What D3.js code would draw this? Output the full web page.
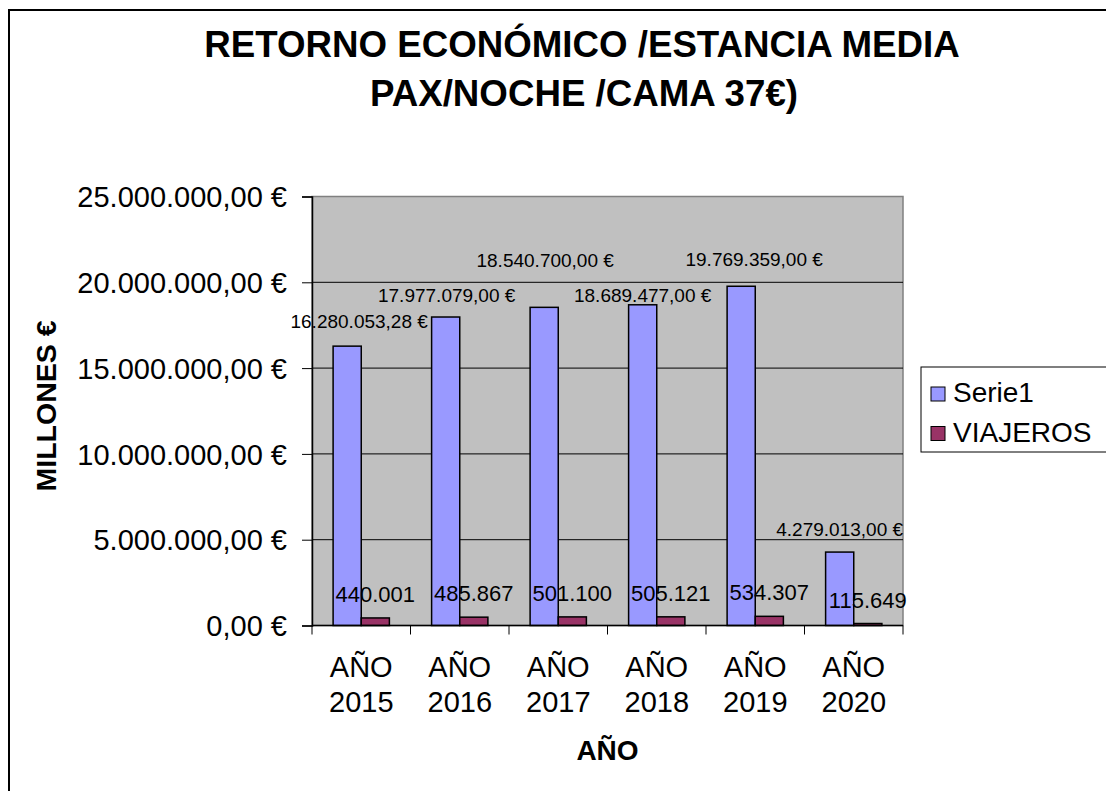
<!DOCTYPE html>
<html>
<head>
<meta charset="utf-8">
<script src="https://cdn.jsdelivr.net/npm/d3@7"></script>
<style>
  body { margin: 0; background: #fff; }
  svg text { font-family: "Liberation Sans", Arial, sans-serif; fill: #000; }
</style>
</head>
<body>
<script>
var years = ["AÑO 2015", "AÑO 2016", "AÑO 2017", "AÑO 2018", "AÑO 2019", "AÑO 2020"];
var serie1 = [16280053.28, 17977079, 18540700, 18689477, 19769359, 4279013];
var viajeros = [440001, 485867, 501100, 505121, 534307, 115649];
var yTicks = [0, 5000000, 10000000, 15000000, 20000000, 25000000];
var seriesNames = ["Serie1", "VIAJEROS"];
var colors = ["#9999FF", "#993366"];

var WIDTH = 1106,
    HEIGHT = 791;

var plot = {left: 312, right: 903, top: 196.5, bottom: 625.5};

// Excel moves some labels to avoid overlaps; nudges (dx, dy) from default spot
var s1Nudge = [[12, -2], [1, 1], [1, -24], [0, 13], [13, -4], [0, 0]];

var svg = d3.select("body").append("svg")
      .attr("width", WIDTH)
      .attr("height", HEIGHT);

// outer chart border (runs off the right and bottom)
svg.append("rect")
  .attr("x", 9).attr("y", 10)
  .attr("width", 1130).attr("height", 800)
  .attr("fill", "#fff")
  .attr("stroke", "#000")
  .attr("stroke-width", 2);

var x = d3.scaleBand().domain(years).range([plot.left, plot.right]).paddingInner(0).paddingOuter(0);
var y = d3.scaleLinear().domain([0, 25000000]).range([plot.bottom, plot.top]);

var fmtEuro = function(v, dec) {
  var s = d3.format(",." + dec + "f")(v);
  return s.replace(/,/g, "#").replace(/\./g, ",").replace(/#/g, ".");
};

// plot background
svg.append("rect")
  .attr("x", plot.left).attr("y", plot.top)
  .attr("width", plot.right - plot.left).attr("height", plot.bottom - plot.top)
  .attr("fill", "#C0C0C0")
  .attr("stroke", "#808080")
  .attr("stroke-width", 1.5);

// gridlines
svg.selectAll(".grid").data(yTicks.slice(1, -1))
  .enter().append("line")
  .attr("class", "grid")
  .attr("x1", plot.left).attr("x2", plot.right)
  .attr("y1", function(d) { return y(d); })
  .attr("y2", function(d) { return y(d); })
  .attr("stroke", "#000")
  .attr("stroke-width", 1);

var bw = x.bandwidth() / 3.5;  // gap width 150%
var off = x.bandwidth() * 0.75 / 3.5;

var groups = [serie1, viajeros];
groups.forEach(function(vals, si) {
  svg.selectAll(".bar" + si).data(vals)
    .enter().append("rect")
    .attr("class", "bar" + si)
    .attr("x", function(d, i) { return x(years[i]) + off + si * bw; })
    .attr("y", function(d) { return y(d); })
    .attr("width", bw)
    .attr("height", function(d) { return y(0) - y(d); })
    .attr("fill", colors[si])
    .attr("stroke", "#000")
    .attr("stroke-width", 1.5);
});

// axes
var yAxis = d3.axisLeft(y).tickValues(yTicks).tickSize(10).tickPadding(15)
  .tickFormat(function(d) { return fmtEuro(d, 2) + " €"; });
var gy = svg.append("g").attr("transform", "translate(" + plot.left + ",0)").call(yAxis);
gy.select(".domain").attr("stroke", "#000").attr("stroke-width", 1.5);
gy.selectAll(".tick line").attr("stroke", "#000");
gy.selectAll("text").style("font-size", "29px").attr("dy", "0.35em");

var xAxisG = svg.append("g").attr("transform", "translate(0," + plot.bottom + ")");
xAxisG.append("line")
  .attr("x1", plot.left).attr("x2", plot.right)
  .attr("stroke", "#000").attr("stroke-width", 1.5);
xAxisG.selectAll(".xt").data(years.concat(["end"]))
  .enter().append("line")
  .attr("x1", function(d, i) { return plot.left + i * x.step(); })
  .attr("x2", function(d, i) { return plot.left + i * x.step(); })
  .attr("y1", 0).attr("y2", 9)
  .attr("stroke", "#000");
var xl = xAxisG.selectAll(".xl").data(years)
  .enter().append("text")
  .attr("text-anchor", "middle")
  .style("font-size", "29px")
  .attr("transform", function(d) { return "translate(" + (x(d) + x.bandwidth() / 2) + ",0)"; });
xl.append("tspan").attr("x", 0).attr("y", 51).text(function(d) { return d.split(" ")[0]; });
xl.append("tspan").attr("x", 0).attr("y", 86).text(function(d) { return d.split(" ")[1]; });

// data labels
svg.selectAll(".lab0").data(serie1)
  .enter().append("text")
  .attr("text-anchor", "middle")
  .style("font-size", "19px")
  .attr("x", function(d, i) { return x(years[i]) + off + bw / 2 + s1Nudge[i][0]; })
  .attr("y", function(d, i) { return y(d) - 16 + s1Nudge[i][1]; })
  .text(function(d) { return fmtEuro(d, 2) + " €"; });

svg.selectAll(".lab1").data(viajeros)
  .enter().append("text")
  .attr("text-anchor", "middle")
  .style("font-size", "22px")
  .attr("x", function(d, i) { return x(years[i]) + off + bw * 1.5; })
  .attr("y", function(d) { return y(d) - 16; })
  .text(function(d) { return fmtEuro(d, 0); });

// titles
var title = svg.append("text")
  .attr("text-anchor", "middle")
  .style("font-size", "36.7px").style("font-weight", "bold");
title.append("tspan").attr("x", 582).attr("y", 57).text("RETORNO ECONÓMICO /ESTANCIA MEDIA");
title.append("tspan").attr("x", 584).attr("y", 106).text("PAX/NOCHE /CAMA 37€)");

svg.append("text")
  .attr("text-anchor", "middle")
  .attr("x", (plot.left + plot.right) / 2).attr("y", 760)
  .style("font-size", "28px").style("font-weight", "bold")
  .text("AÑO");

svg.append("text")
  .attr("text-anchor", "middle")
  .attr("transform", "translate(56," + ((plot.top + plot.bottom) / 2 - 5) + ") rotate(-90)")
  .style("font-size", "28.5px").style("font-weight", "bold")
  .text("MILLONES €");

// legend
var leg = svg.append("g");
leg.append("rect")
  .attr("x", 921).attr("y", 367)
  .attr("width", 200).attr("height", 85)
  .attr("fill", "#fff").attr("stroke", "#000").attr("stroke-width", 1);
seriesNames.forEach(function(n, i) {
  leg.append("rect")
    .attr("x", 931).attr("y", 387 + i * 39.5)
    .attr("width", 14).attr("height", 14)
    .attr("fill", colors[i]).attr("stroke", "#000").attr("stroke-width", 1);
  leg.append("text")
    .attr("x", 953).attr("y", 402 + i * 40)
    .style("font-size", "28px")
    .text(n);
});
</script>
</body>
</html>
